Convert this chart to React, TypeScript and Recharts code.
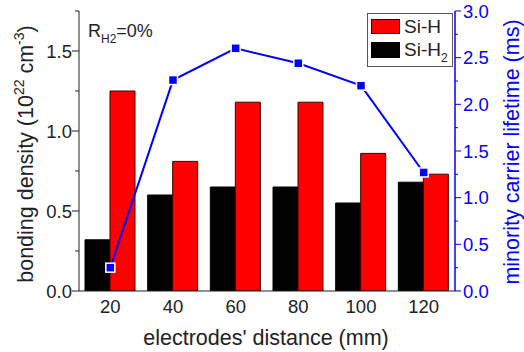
import React from 'react';
import { ComposedChart, Bar, Line, XAxis, YAxis, Legend, Customized } from 'recharts';

const categories = ['20', '40', '60', '80', '100', '120'];
const siH = [1.25, 0.81, 1.18, 1.18, 0.86, 0.73];
const siH2 = [0.32, 0.6, 0.65, 0.65, 0.55, 0.68];
const lifetime = [0.25, 2.26, 2.6, 2.44, 2.2, 1.27];
const leftTicks = [0, 0.25, 0.5, 0.75, 1.0, 1.25, 1.5, 1.75];
const rightTicks = [0, 0.25, 0.5, 0.75, 1.0, 1.25, 1.5, 1.75, 2.0, 2.25, 2.5, 2.75, 3.0];

const data = categories.map((c, i) => ({ x: c, siH: siH[i], siH2: siH2[i], life: lifetime[i] }));

const FONT = '"Liberation Sans", Arial, sans-serif';
const BLUE = '#0000ff';
const AXIS = '#222222';

const isMajor = (v: number) => Math.abs(v * 2 - Math.round(v * 2)) < 1e-6;

const LeftTick = (p: any) => {
  const { x, y, payload } = p;
  const v = payload.value as number;
  const major = isMajor(v);
  return (
    <g>
      <line x1={x - (major ? 7 : 4)} x2={x} y1={y} y2={y} stroke={AXIS} strokeWidth={1} />
      {major && (
        <text x={x - 7} y={y + 6.5} textAnchor="end" fontSize={18.5} fill={AXIS} fontFamily={FONT}>
          {v.toFixed(1)}
        </text>
      )}
    </g>
  );
};

const RightTick = (p: any) => {
  const { x, y, payload } = p;
  const v = payload.value as number;
  const major = isMajor(v);
  return (
    <g>
      <line x1={x} x2={x + (major ? 6 : 3)} y1={y} y2={y} stroke={BLUE} strokeWidth={1} />
      {major && (
        <text x={x + 8} y={y + 6.5} textAnchor="start" fontSize={18.5} fill={BLUE} fontFamily={FONT}>
          {v.toFixed(1)}
        </text>
      )}
    </g>
  );
};

const BottomTick = (p: any) => {
  const { x, y, payload } = p;
  return (
    <text x={x} y={y + 22} textAnchor="middle" fontSize={18.5} fill={AXIS} fontFamily={FONT}>
      {payload.value}
    </text>
  );
};

const TopTick = (p: any) => {
  const { x, y } = p;
  return <line x1={x} x2={x} y1={y} y2={y + 5} stroke={AXIS} strokeWidth={1} />;
};

const SquareDot = (p: any) => {
  const { cx, cy } = p;
  if (cx == null || cy == null) return null;
  return <rect x={cx - 4.5} y={cy - 4.5} width={9} height={9} fill={BLUE} stroke="#ffffff" strokeWidth={1.5} />;
};

const Titles = () => (
  <g fontFamily={FONT}>
    <text transform="translate(33,154) rotate(-90)" textAnchor="middle" fontSize={21.5} fill={AXIS}>
      bonding density (10<tspan dy={-9} fontSize={14}>22</tspan>
      <tspan dy={9}> cm</tspan>
      <tspan dy={-9} fontSize={14}>-3</tspan>
      <tspan dy={9}>)</tspan>
    </text>
    <text transform="translate(519,152) rotate(-90)" textAnchor="middle" fontSize={21.5} fill={BLUE}>
      minority carrier lifetime (ms)
    </text>
    <text x={266} y={345} textAnchor="middle" fontSize={21.5} fill={AXIS}>
      electrodes' distance (mm)
    </text>
    <text x={88} y={37} fontSize={18} fill={AXIS}>
      R<tspan dy={6} fontSize={12}>H2</tspan>
      <tspan dy={-6}>=0%</tspan>
    </text>
  </g>
);

const LegendBox = () => (
  <svg width={86} height={54} style={{ display: 'block' }}>
    <rect x={0.5} y={0.5} width={85} height={53} fill="#ffffff" stroke="#555555" strokeWidth={1} />
    <rect x={4.5} y={6.5} width={28} height={14} fill="#ff0000" stroke="#400000" strokeWidth={1} />
    <rect x={4.5} y={29.5} width={28} height={15} fill="#000000" stroke="#000000" strokeWidth={1} />
    <text x={37} y={19.5} fontSize={19} fill={AXIS} fontFamily={FONT}>Si-H</text>
    <text x={37} y={43} fontSize={19} fill={AXIS} fontFamily={FONT}>
      Si-H<tspan dy={6} fontSize={12}>2</tspan>
    </text>
  </svg>
);

export default function App() {
  return (
    <div style={{ position: 'absolute', left: 0, top: 0, width: 524, height: 352, background: '#ffffff' }}>
      <ComposedChart
        width={524}
        height={352}
        data={data}
        margin={{ top: 11, right: 0, bottom: 0, left: 0 }}
        barGap={0}
      >
        <XAxis
          dataKey="x"
          type="category"
          height={61}
          axisLine={{ stroke: AXIS, strokeWidth: 1 }}
          tickLine={false}
          tickSize={0}
          tickMargin={0}
          tick={<BottomTick />}
          interval={0}
        />
        <XAxis
          xAxisId="top"
          dataKey="x"
          type="category"
          orientation="top"
          height={0}
          axisLine={{ stroke: AXIS, strokeWidth: 1 }}
          tickLine={false}
          tickSize={0}
          tickMargin={0}
          tick={<TopTick />}
          interval={0}
        />
        <YAxis
          yAxisId="left"
          orientation="left"
          type="number"
          domain={[0, 1.75]}
          ticks={leftTicks}
          interval={0}
          width={79}
          axisLine={{ stroke: AXIS, strokeWidth: 1 }}
          tickLine={false}
          tickSize={0}
          tickMargin={0}
          tick={<LeftTick />}
          allowDataOverflow
        />
        <YAxis
          yAxisId="right"
          orientation="right"
          type="number"
          domain={[0, 3]}
          ticks={rightTicks}
          interval={0}
          width={69}
          axisLine={{ stroke: BLUE, strokeWidth: 1.5 }}
          tickLine={false}
          tickSize={0}
          tickMargin={0}
          tick={<RightTick />}
          allowDataOverflow
        />
        <Bar yAxisId="left" dataKey="siH2" name="Si-H2" barSize={25} fill="#000000" stroke="#000000" strokeWidth={1} isAnimationActive={false} />
        <Bar yAxisId="left" dataKey="siH" name="Si-H" barSize={25} fill="#ff0000" stroke="#400000" strokeWidth={1} isAnimationActive={false} />
        <Line
          yAxisId="right"
          dataKey="life"
          name="lifetime"
          stroke={BLUE}
          strokeWidth={2}
          dot={<SquareDot />}
          activeDot={false}
          isAnimationActive={false}
        />
        <Customized component={<Titles />} />
        <Legend
          layout="vertical"
          align="center"
          verticalAlign="middle"
          content={<LegendBox />}
          wrapperStyle={{ position: 'absolute', left: 367, top: 13, width: 86, height: 54 }}
        />
      </ComposedChart>
    </div>
  );
}
